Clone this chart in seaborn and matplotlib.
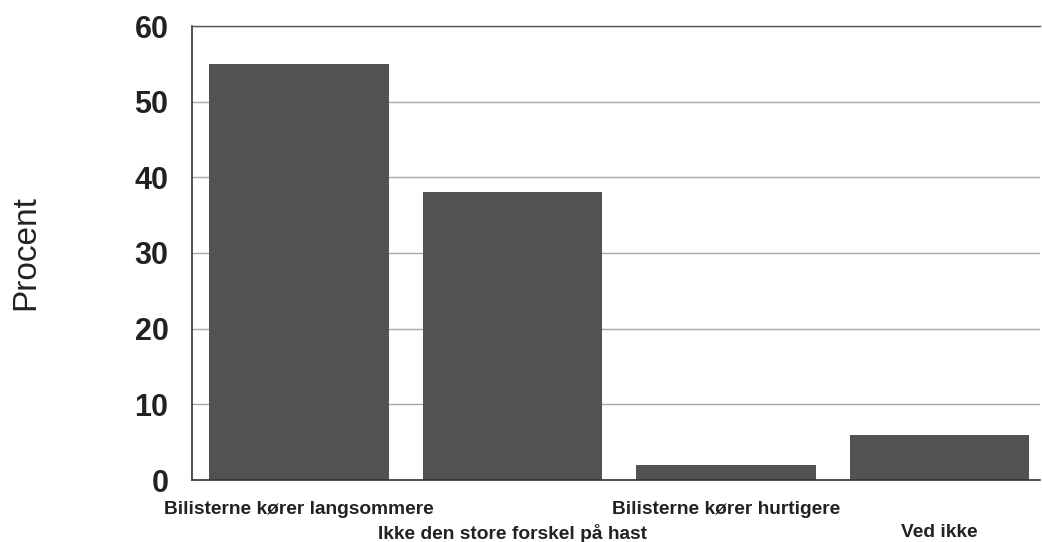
import matplotlib
matplotlib.use("Agg")
import matplotlib.pyplot as plt
import seaborn as sns
import pandas as pd

categories = [
    "Bilisterne kører langsommere",
    "Ikke den store forskel på hast",
    "Bilisterne kører hurtigere",
    "Ved ikke",
]
percent = [55, 38, 2, 6]
y_ticks = [0, 10, 20, 30, 40, 50, 60]

sns.set_style("white")
plt.rcParams["font.family"] = ["Liberation Sans", "DejaVu Sans"]

df = pd.DataFrame({"svar": categories, "procent": percent})

fig = plt.figure(figsize=(10.42, 5.42), dpi=100)
ax = fig.add_axes([192 / 1042, 1 - 480 / 542, 848 / 1042, 454 / 542])

sns.barplot(data=df, x="svar", y="procent", color="#525252", saturation=1,
            width=0.84, edgecolor="none", ax=ax, zorder=2)

ax.set_ylim(0, 60)
ax.set_xlim(-0.5, 3.47)
ax.set_yticks(y_ticks)
ax.set_yticklabels([str(t) for t in y_ticks], fontsize=22, fontweight="bold", color="#222222")
ax.yaxis.grid(True, color="#a8a8a8", linewidth=1, zorder=0)
ax.set_axisbelow(True)

ax.set_xticks(range(len(categories)))
ax.set_xticklabels(categories, fontsize=13.8, fontweight="bold", color="#222222")
ax.tick_params(axis="x", length=0)
ax.tick_params(axis="y", length=0, pad=17)

# staggered category labels, every second one pushed a line down
for i, tick in enumerate(ax.xaxis.get_major_ticks()):
    tick.set_pad(15 if i % 2 == 0 else 32)

ax.set_xlabel("")
ax.set_ylabel("Procent", fontsize=24, color="#222222", labelpad=67)

for side in ["left", "bottom"]:
    ax.spines[side].set_color("#333333")
    ax.spines[side].set_linewidth(1.2)
ax.spines["top"].set_color("#555555")
ax.spines["top"].set_linewidth(1)
ax.spines["right"].set_visible(False)

fig.savefig("out.png", dpi=100)
